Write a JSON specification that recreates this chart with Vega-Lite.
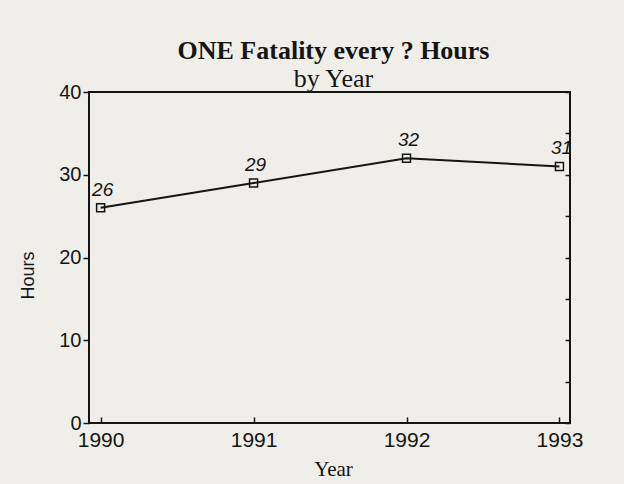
{
  "$schema": "https://vega.github.io/schema/vega-lite/v6.json",
  "width": 481,
  "height": 331,
  "autosize": "none",
  "padding": {"left": 89, "top": 92, "right": 54, "bottom": 61},
  "background": "#efeee9",
  "config": {
    "view": {"stroke": "#151515", "strokeWidth": 2},
    "axis": {"domain": false, "grid": false, "tickColor": "#151515", "labelColor": "#151515", "titleColor": "#151515", "tickWidth": 1.5}
  },
  "title": {
    "text": "ONE Fatality every ? Hours",
    "subtitle": "by Year",
    "frame": "group",
    "anchor": "middle",
    "dx": 4,
    "offset": -10,
    "font": "Liberation Serif",
    "fontSize": 26,
    "fontWeight": "bold",
    "color": "#151515",
    "subtitleFont": "Liberation Serif",
    "subtitleFontSize": 26,
    "subtitleFontWeight": "normal",
    "subtitleColor": "#151515",
    "subtitlePadding": 2
  },
  "data": {
    "values": [
      {"Year": 1990, "Hours": 26},
      {"Year": 1991, "Hours": 29},
      {"Year": 1992, "Hours": 32},
      {"Year": 1993, "Hours": 31}
    ]
  },
  "layer": [
    {
      "mark": {"type": "line", "color": "#151515", "strokeWidth": 2},
      "encoding": {
        "x": {
          "field": "Year", "type": "quantitative",
          "scale": {"domain": [1989.924, 1993.069], "nice": false, "zero": false},
          "axis": {
            "values": [1990, 1991, 1992, 1993], "format": "d",
            "offset": -6, "tickSize": 6, "labelPadding": 6,
            "labelFont": "Liberation Sans", "labelFontSize": 21,
            "labelBaseline": "top",
            "title": "Year", "titleFont": "Liberation Serif", "titleFontSize": 21, "titleFontWeight": "normal",
            "titleBaseline": "alphabetic", "titleY": 58, "titleX": 244
          }
        },
        "y": {
          "field": "Hours", "type": "quantitative",
          "scale": {"domain": [0, 40], "nice": false},
          "axis": {
            "values": [0, 10, 20, 30, 40],
            "tickSize": 6, "labelPadding": 2,
            "labelFont": "Liberation Sans", "labelFontSize": 20,
            "title": "Hours", "titleFont": "Liberation Sans", "titleFontSize": 18, "titleFontWeight": "normal",
            "titleBaseline": "alphabetic", "titleX": -56, "titleY": 183
          }
        }
      }
    },
    {
      "mark": {"type": "point", "shape": "square", "filled": false, "size": 64, "stroke": "#151515", "strokeWidth": 1.5, "opacity": 1},
      "encoding": {
        "x": {"field": "Year", "type": "quantitative"},
        "y": {
          "field": "Hours", "type": "quantitative",
          "axis": {"orient": "right", "values": [0, 5, 10, 15, 20, 25, 30, 35, 40], "labels": false, "tickSize": 5, "offset": -5, "title": null}
        }
      }
    },
    {
      "mark": {"type": "text", "font": "Liberation Sans", "fontSize": 19, "fontStyle": "italic", "color": "#151515", "dy": -12, "dx": 2, "baseline": "alphabetic"},
      "encoding": {
        "x": {"field": "Year", "type": "quantitative"},
        "y": {"field": "Hours", "type": "quantitative", "axis": null},
        "text": {"field": "Hours", "type": "quantitative"}
      }
    }
  ],
  "resolve": {"axis": {"y": "independent"}}
}
